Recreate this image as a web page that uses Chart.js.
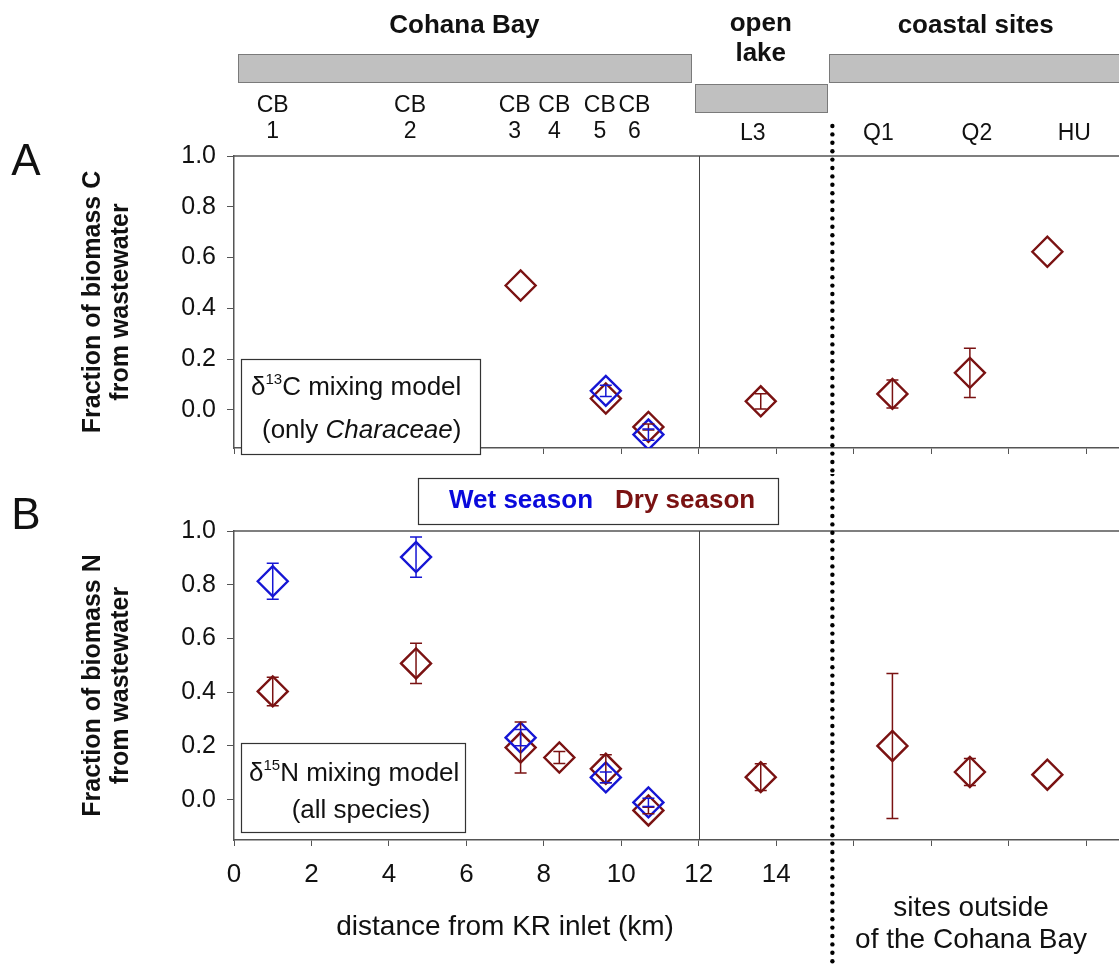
<!DOCTYPE html>
<html>
<head>
<meta charset="utf-8">
<title>Fraction of biomass from wastewater</title>
<script src="https://cdn.jsdelivr.net/npm/chart.js@4.4.0/dist/chart.umd.min.js"></script>
<style>
  body { margin: 0; background: #fff; }
  #wrap { position: relative; width: 1119px; height: 965px; overflow: hidden; }
  canvas { position: absolute; left: 0; }
  #chartA { top: 0; }
  #chartB { top: 474px; }
</style>
</head>
<body>
<div id="wrap">
  <canvas id="chartA" width="1119" height="474"></canvas>
  <canvas id="chartB" width="1119" height="491"></canvas>
</div>
<script>
// sampling sites and their distance from the KR inlet (km)
var siteTop = ['CB', 'CB', 'CB', 'CB', 'CB', 'CB', '', '', '', ''];
var siteBottom = ['1', '2', '3', '4', '5', '6', 'L3', 'Q1', 'Q2', 'HU'];
var siteKm = [1.0, 4.7, 7.4, 8.4, 9.6, 10.7, 13.6, 17.0, 19.0, 21.0];

// A: fraction of biomass C from wastewater (d13C mixing model, only Characeae)
var cWet = [null, null, null, null, 0.075, -0.097, null, null, null, null];
var cWetErr = [null, null, null, null, 0.022, 0.022, null, null, null, null];
var cDry = [null, null, 0.49, null, 0.045, -0.067, 0.034, 0.063, 0.146, 0.623];
var cDryErr = [null, null, null, null, null, 0.012, 0.03, 0.055, 0.097, null];

// B: fraction of biomass N from wastewater (d15N mixing model, all species)
var nWet = [0.813, 0.903, 0.231, null, 0.083, -0.01, null, null, null, null];
var nWetErr = [0.067, 0.075, 0.03, null, 0.02, 0.015, null, null, null, null];
var nDry = [0.403, 0.507, 0.194, 0.157, 0.115, -0.04, 0.084, 0.2, 0.103, 0.093];
var nDryErr = [0.053, 0.075, 0.095, 0.022, 0.052, 0.012, 0.05, 0.27, 0.05, null];

var yTicks = [0, 0.2, 0.4, 0.6, 0.8, 1.0];
var xTicks = [0, 2, 4, 6, 8, 10, 12, 14, 16, 18, 20, 22];
var xLabelMax = 14;

var wetColor = '#1616d4';
var dryColor = '#7a1212';
var FONT = "'Liberation Sans', Arial, sans-serif";

function points(vals, errs) {
    var pts = [];
    for (var i = 0; i < vals.length; i++) {
        if (vals[i] === null) continue;
        pts.push({ x: siteKm[i], y: vals[i], err: errs[i] });
    }
    return pts;
}

function diamondSet(label, vals, errs, color) {
    return {
        label: label,
        data: points(vals, errs),
        pointStyle: 'rectRot',
        pointRadius: 15,
        pointHoverRadius: 15,
        borderWidth: 2.4,
        borderColor: color,
        backgroundColor: 'rgba(0,0,0,0)',
        showLine: false
    };
}

// vertical error bars, drawn through the y scale
var errorBars = {
    id: 'errorBars',
    afterDatasetsDraw: function(chart) {
        var ctx = chart.ctx;
        var ys = chart.scales.y;
        for (var di = chart.data.datasets.length - 1; di >= 0; di--) {
            var ds = chart.data.datasets[di];
            var meta = chart.getDatasetMeta(di);
            ds.data.forEach(function(p, i) {
                if (!p.err) return;
                var x = meta.data[i].x;
                var top = ys.getPixelForValue(p.y + p.err);
                var bot = ys.getPixelForValue(p.y - p.err);
                ctx.save();
                ctx.strokeStyle = ds.borderColor;
                ctx.lineWidth = 1.5;
                ctx.beginPath();
                ctx.moveTo(x, top); ctx.lineTo(x, bot);
                ctx.moveTo(x - 6, top); ctx.lineTo(x + 6, top);
                ctx.moveTo(x - 6, bot); ctx.lineTo(x + 6, bot);
                ctx.stroke();
                ctx.restore();
            });
        }
    }
};

// text runs: [text, font, dy]
function drawRuns(ctx, runs, x, y) {
    ctx.textAlign = 'left';
    ctx.textBaseline = 'alphabetic';
    runs.forEach(function(r) {
        ctx.font = r[1];
        ctx.fillText(r[0], x, y + (r[2] || 0));
        x += ctx.measureText(r[0]).width;
    });
}

function frame(chart, dotTop) {
    var ctx = chart.ctx, a = chart.chartArea, xs = chart.scales.x;
    ctx.save();
    ctx.strokeStyle = '#555';
    ctx.lineWidth = 1.5;
    ctx.beginPath();
    ctx.moveTo(a.left, a.top); ctx.lineTo(chart.width, a.top);
    ctx.stroke();
    // end of the bay at 12 km
    var x12 = Math.round(xs.getPixelForValue(12)) + 0.5;
    ctx.strokeStyle = '#444';
    ctx.lineWidth = 1;
    ctx.beginPath();
    ctx.moveTo(x12, a.top); ctx.lineTo(x12, a.bottom);
    ctx.stroke();
    // dotted separator for sites outside the bay
    var xd = xs.getPixelForValue(15.45);
    ctx.fillStyle = '#000';
    for (var y = dotTop; y < chart.height + 4; y += 8.4) {
        ctx.beginPath();
        ctx.arc(xd, y, 2.2, 0, Math.PI * 2);
        ctx.fill();
    }
    ctx.restore();
}

function yTitle(chart, line1, line2) {
    var ctx = chart.ctx, a = chart.chartArea;
    var cy = (a.top + a.bottom) / 2;
    ctx.save();
    ctx.translate(0, cy);
    ctx.rotate(-Math.PI / 2);
    ctx.fillStyle = '#111';
    ctx.font = 'bold 25px ' + FONT;
    ctx.textAlign = 'center';
    ctx.textBaseline = 'middle';
    ctx.fillText(line1, 0, 93);
    ctx.fillText(line2, 0, 121);
    ctx.restore();
}

function box(ctx, x, y, w, h) {
    ctx.save();
    ctx.strokeStyle = '#333';
    ctx.lineWidth = 1.2;
    ctx.fillStyle = '#fff';
    ctx.fillRect(x, y, w, h);
    ctx.strokeRect(x + 0.5, y + 0.5, w, h);
    ctx.restore();
}

var decorA = {
    id: 'decorA',
    afterDraw: function(chart) {
        var ctx = chart.ctx, xs = chart.scales.x;
        frame(chart, 126);
        // region bars
        ctx.save();
        ctx.fillStyle = '#c0c0c0';
        ctx.strokeStyle = '#7a7a7a';
        ctx.lineWidth = 1;
        var bars = [[0.1, 11.8, 54], [11.9, 15.3, 84], [15.35, 23.5, 54]];
        bars.forEach(function(b) {
            var x0 = Math.round(xs.getPixelForValue(b[0])) + 0.5;
            var x1 = Math.round(xs.getPixelForValue(b[1])) + 0.5;
            ctx.fillRect(x0, b[2] + 0.5, x1 - x0, 28);
            ctx.strokeRect(x0, b[2] + 0.5, x1 - x0, 28);
        });
        ctx.fillStyle = '#111';
        ctx.textAlign = 'center';
        ctx.textBaseline = 'middle';
        ctx.font = 'bold 26px ' + FONT;
        ctx.fillText('Cohana Bay', xs.getPixelForValue(5.95), 26);
        ctx.fillText('open', xs.getPixelForValue(13.6), 24);
        ctx.fillText('lake', xs.getPixelForValue(13.6), 54);
        ctx.fillText('coastal sites', xs.getPixelForValue(19.15), 26);
        // site names above the panel
        var shift = [0, -6, -6, -5, -6, -14, -8, -14, 7, 27];
        ctx.font = '23px ' + FONT;
        for (var i = 0; i < siteKm.length; i++) {
            var x = xs.getPixelForValue(siteKm[i]) + shift[i];
            if (siteTop[i]) {
                ctx.fillText(siteTop[i], x, 106);
                ctx.fillText(siteBottom[i], x, 132);
            } else {
                ctx.fillText(siteBottom[i], x, 134);
            }
        }
        ctx.font = '44px ' + FONT;
        ctx.fillText('A', 26, 163);
        ctx.restore();
        yTitle(chart, 'Fraction of biomass C', 'from wastewater');
        box(ctx, 241, 359, 239, 95);
        ctx.save();
        ctx.fillStyle = '#111';
        drawRuns(ctx, [['\u03b4', '26px ' + FONT], ['13', '15px ' + FONT, -11], ['C mixing model', '26px ' + FONT]], 251, 395);
        drawRuns(ctx, [['(only ', '26px ' + FONT], ['Characeae', 'italic 26px ' + FONT], [')', '26px ' + FONT]], 262, 438);
        ctx.restore();
    }
};

var decorB = {
    id: 'decorB',
    afterDraw: function(chart) {
        var ctx = chart.ctx, xs = chart.scales.x;
        frame(chart, 0);
        ctx.save();
        ctx.fillStyle = '#111';
        ctx.textAlign = 'center';
        ctx.textBaseline = 'middle';
        ctx.font = '44px ' + FONT;
        ctx.fillText('B', 26, 43);
        ctx.restore();
        // season legend
        box(ctx, 418, 4, 360, 46);
        ctx.save();
        ctx.textBaseline = 'middle';
        ctx.textAlign = 'left';
        ctx.font = 'bold 26px ' + FONT;
        ctx.fillStyle = '#0a0adc';
        ctx.fillText('Wet season', 449, 27);
        ctx.fillStyle = dryColor;
        ctx.fillText('Dry season', 615, 27);
        ctx.restore();
        yTitle(chart, 'Fraction of biomass N', 'from wastewater');
        box(ctx, 241, 269, 224, 89);
        ctx.save();
        ctx.fillStyle = '#111';
        drawRuns(ctx, [['\u03b4', '26px ' + FONT], ['15', '15px ' + FONT, -11], ['N mixing model', '26px ' + FONT]], 249, 307);
        ctx.textAlign = 'center';
        ctx.textBaseline = 'middle';
        ctx.font = '26px ' + FONT;
        ctx.fillText('(all species)', 361, 337);
        // axis titles under the panel
        ctx.font = '28px ' + FONT;
        ctx.fillText('distance from KR inlet (km)', xs.getPixelForValue(7), 453);
        ctx.fillText('sites outside', xs.getPixelForValue(19.03), 434);
        ctx.fillText('of the Cohana Bay', xs.getPixelForValue(19.03), 466);
        ctx.restore();
    }
};

function makeOptions(padTop, xHeight, showXLabels) {
    return {
        responsive: false,
        animation: false,
        events: [],
        layout: { autoPadding: false, padding: { top: padTop, left: 0, right: 0, bottom: 0 } },
        plugins: { legend: { display: false }, tooltip: { enabled: false } },
        scales: {
            x: {
                type: 'linear',
                min: 0,
                max: 22.85,
                afterBuildTicks: function(s) { s.ticks = xTicks.map(function(v) { return { value: v }; }); },
                afterFit: function(s) { s.height = xHeight; },
                ticks: {
                    display: showXLabels,
                    autoSkip: false,
                    maxRotation: 0,
                    padding: 13,
                    color: '#111',
                    font: { family: FONT, size: 26 },
                    callback: function(v) { return v <= xLabelMax ? String(v) : ''; }
                },
                grid: { drawOnChartArea: false, drawTicks: true, tickLength: 6, color: '#555' },
                border: { display: true, color: '#555', width: 1.5 }
            },
            y: {
                type: 'linear',
                min: -0.15,
                max: 1.0,
                afterBuildTicks: function(s) { s.ticks = yTicks.map(function(v) { return { value: v }; }); },
                afterFit: function(s) { s.width = 234; },
                ticks: {
                    padding: 11,
                    color: '#111',
                    font: { family: FONT, size: 25 },
                    callback: function(v) { return v.toFixed(1); }
                },
                grid: { drawOnChartArea: false, drawTicks: true, tickLength: 7, color: '#555' },
                border: { display: true, color: '#555', width: 1.5 }
            }
        }
    };
}

new Chart(document.getElementById('chartA').getContext('2d'), {
    type: 'scatter',
    data: {
        datasets: [
            diamondSet('Wet season', cWet, cWetErr, wetColor),
            diamondSet('Dry season', cDry, cDryErr, dryColor)
        ]
    },
    options: makeOptions(156, 9, false),
    plugins: [errorBars, decorA]
});

new Chart(document.getElementById('chartB').getContext('2d'), {
    type: 'scatter',
    data: {
        datasets: [
            diamondSet('Wet season', nWet, nWetErr, wetColor),
            diamondSet('Dry season', nDry, nDryErr, dryColor)
        ]
    },
    options: makeOptions(57, 125, true),
    plugins: [errorBars, decorB]
});
</script>
</body>
</html>
